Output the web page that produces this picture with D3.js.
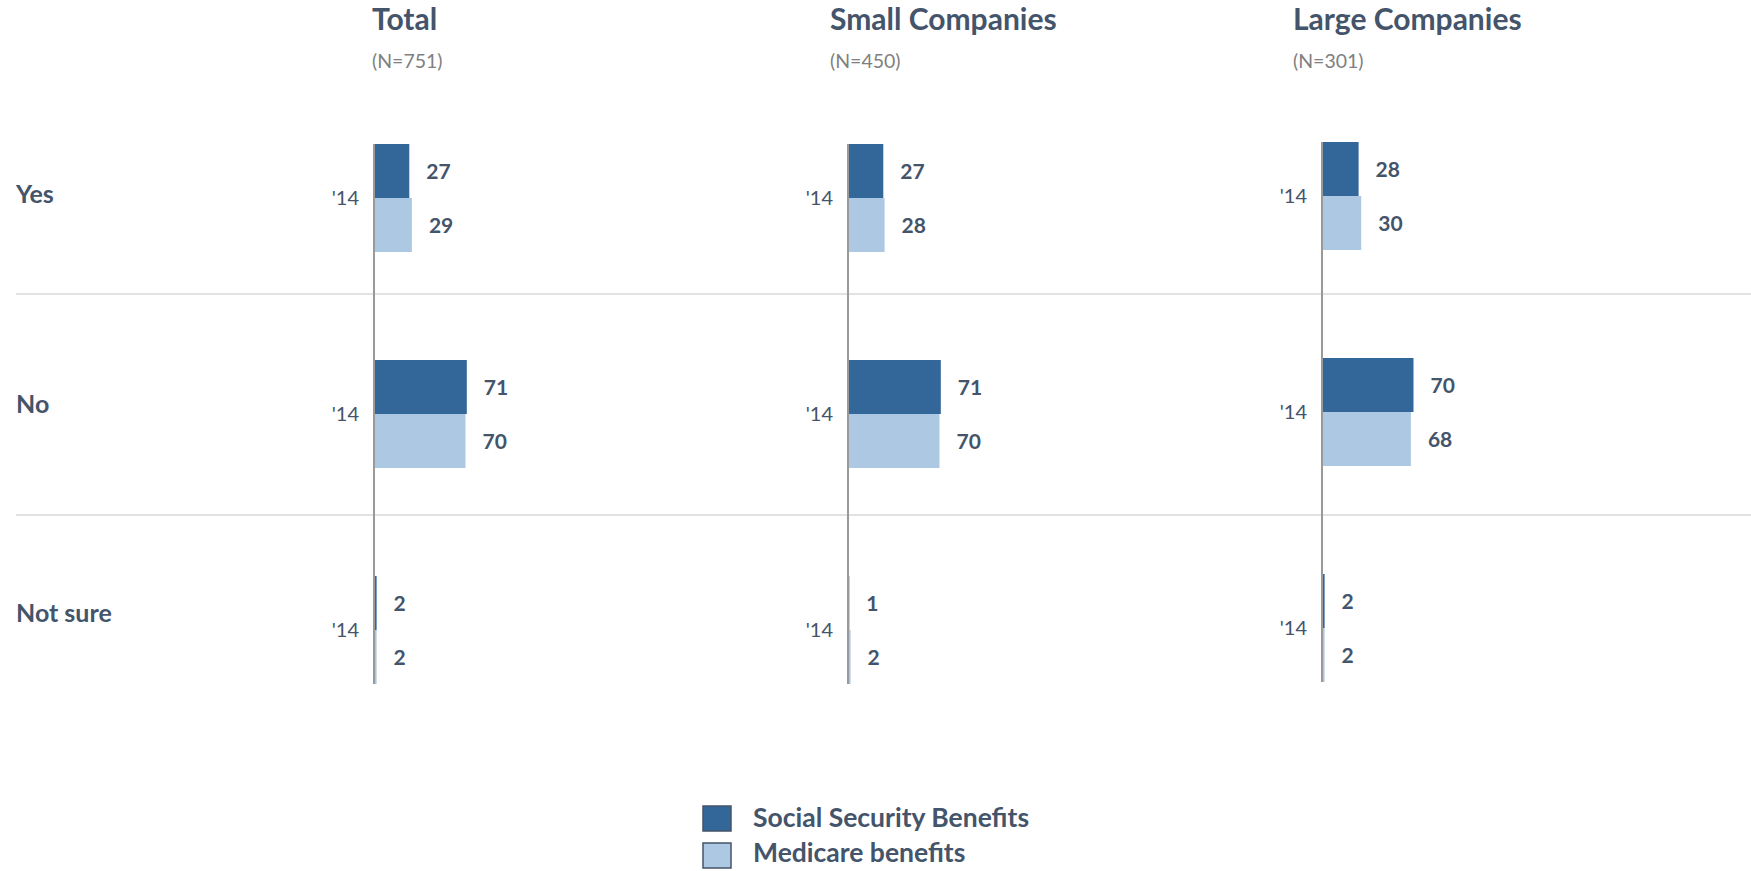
<!DOCTYPE html>
<html>
<head>
<meta charset="utf-8">
<script src="https://cdn.jsdelivr.net/npm/d3@7"></script>
<style>
  html, body { margin: 0; padding: 0; background: #fff; }
  svg { display: block; font-family: Lato, "Open Sans", sans-serif; }
</style>
</head>
<body>
<svg id="chart" width="1751" height="871"></svg>
<script>
// Survey answers by company size, 2014
const categories = ["Yes", "No", "Not sure"];
const seriesNames = ["Social Security Benefits", "Medicare benefits"];
const panelTitles = ["Total", "Small Companies", "Large Companies"];
const panelBases = ["(N=751)", "(N=450)", "(N=301)"];
const yearLabel = "'14";

// values per panel: [category][series]
const totalValues = [[27, 29], [71, 70], [2, 2]];
const smallValues = [[27, 28], [71, 70], [1, 2]];
const largeValues = [[28, 30], [70, 68], [2, 2]];
const panelValues = [totalValues, smallValues, largeValues];

const colors = ["#336699", "#adc8e3"];
const textDark = "#44546a";

const svg = d3.select("#chart");
const W = 1751;

// layout
const axisX = [374, 848, 1322];
const titleX = [372, 830, 1293];
const panelDy = [0, 0, -2];

const x = d3.scaleLinear().domain([0, 100]).range([0, 130.7]);
const row = d3.scaleBand().domain(categories).range([90, 738]);
const rowLabelY = d3.scalePoint().domain(categories).range([203, 622]);

// separators between categories
svg.selectAll("line.sep")
  .data([294, 515])
  .join("line")
  .attr("class", "sep")
  .attr("x1", 16).attr("x2", W)
  .attr("y1", d => d).attr("y2", d => d)
  .attr("stroke", "#d9d9d9").attr("stroke-width", 1.5);

// row labels
svg.selectAll("text.rowlab")
  .data(categories)
  .join("text")
  .attr("class", "rowlab")
  .attr("x", 16)
  .attr("y", d => rowLabelY(d))
  .attr("font-size", 25).attr("font-weight", 700)
  .attr("fill", textDark)
  .text(d => d);

panelTitles.forEach((title, p) => {
  const g = svg.append("g").attr("transform", `translate(0,${panelDy[p]})`);
  const ax = axisX[p];

  svg.append("text")
    .attr("x", titleX[p]).attr("y", 30)
    .attr("font-size", 30).attr("font-weight", 700)
    .attr("fill", textDark)
    .text(title);

  svg.append("text")
    .attr("x", titleX[p]).attr("y", 68)
    .attr("font-size", 19.5)
    .attr("fill", "#808080")
    .text(panelBases[p]);

  categories.forEach((cat, ci) => {
    const c = row(cat) + row.bandwidth() / 2;
    const inner = d3.scaleBand().domain(seriesNames).range([c - 54, c + 54]);
    const vals = panelValues[p][ci];

    g.selectAll(null)
      .data(vals)
      .join("rect")
      .attr("x", ax)
      .attr("y", (d, i) => inner(seriesNames[i]))
      .attr("width", d => x(d))
      .attr("height", inner.bandwidth())
      .attr("fill", (d, i) => colors[i]);

    g.selectAll(null)
      .data(vals)
      .join("text")
      .attr("x", d => ax + x(d) + 17)
      .attr("y", (d, i) => inner(seriesNames[i]) + inner.bandwidth() / 2)
      .attr("dy", "0.36em")
      .attr("font-size", 21).attr("font-weight", 700)
      .attr("fill", textDark)
      .text(d => d);

    g.append("text")
      .attr("x", ax - 15)
      .attr("y", c)
      .attr("dy", "0.36em")
      .attr("text-anchor", "end")
      .attr("font-size", 20)
      .attr("fill", textDark)
      .text(yearLabel);
  });

  // value axis baseline
  const first = row(categories[0]) + row.bandwidth() / 2 - 54;
  const last = row(categories[categories.length - 1]) + row.bandwidth() / 2 + 54;
  g.append("line")
    .attr("x1", ax).attr("x2", ax)
    .attr("y1", first).attr("y2", last)
    .attr("stroke", "#999").attr("stroke-width", 2);
});

// legend
const legend = svg.append("g");
seriesNames.forEach((s, i) => {
  legend.append("rect")
    .attr("x", 703).attr("y", [806, 843][i])
    .attr("width", 28).attr("height", 25)
    .attr("fill", colors[i])
    .attr("stroke", textDark).attr("stroke-width", 1.5);
  legend.append("text")
    .attr("x", 753).attr("y", [827, 862][i])
    .attr("font-size", 26.5).attr("font-weight", 700)
    .attr("fill", textDark)
    .text(s);
});
</script>
</body>
</html>
